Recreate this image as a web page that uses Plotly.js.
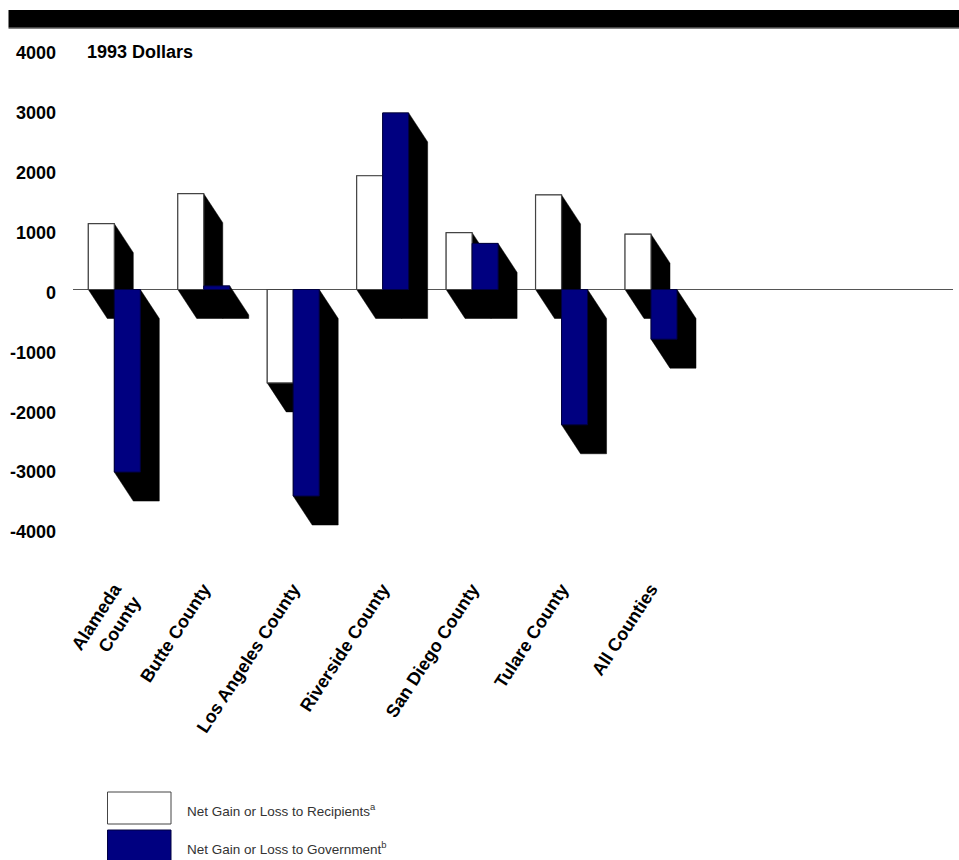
<!DOCTYPE html>
<html><head><meta charset="utf-8">
<script src="https://cdn.plot.ly/plotly-3.0.1.min.js"></script>
<style>html,body{margin:0;padding:0;background:#fff}</style>
</head><body><div id="chart" style="width:959px;height:860px"></div>
<script>
// ---- data ----
const categories = ["Alameda<br>County","Butte County","Los Angeles County","Riverside County","San Diego County","Tulare County","All Counties"];
const recipients = [1100, 1600, -1560, 1900, 950, 1580, 925];
const government = [-3050, 60, -3450, 2950, 770, -2260, -830];
const yTickVals = [4000, 3000, 2000, 1000, 0, -1000, -2000, -3000, -4000];
const yTickText = ["4000", "3000", "2000", "1000", "0", "-1000", "-2000", "-3000", "-4000"];
const seriesNames = ["Net Gain or Loss to Recipients<sup>a</sup>", "Net Gain or Loss to Government<sup>b</sup>"];
const unitLabel = "1993 Dollars";

// ---- geometry / style ----
const W = 959, H = 860;
const M = {l: 73, r: 6, t: 50, b: 331};
const plotW = W - M.l - M.r, plotH = H - M.t - M.b;
const catPx = 89.45;
const xRange = [-0.4617, -0.4617 + plotW / catPx];
const yRange = [-4001, 4001];
const pxPerX = plotW / (xRange[1] - xRange[0]);
const pxPerY = plotH / (yRange[1] - yRange[0]);
const barW = 26 / pxPerX;
const sdx = 19 / pxPerX, sdy = 29 / pxPerY;
const idx = categories.map((_, i) => i);
const px2x = p => (p - M.l) / plotW;
const px2y = p => (H - M.b - p) / plotH;
const boldFont = {family: "Liberation Sans, Arial, sans-serif", size: 18, color: "#000", weight: "bold"};
const legendFont = {family: "Liberation Sans, Arial, sans-serif", size: 13.5, color: "#333"};

function shadow(vals, off) {
  const xs = [], ys = [];
  vals.forEach((v, i) => {
    const x0 = i + off, x1 = x0 + barW;
    const y0 = Math.min(0, v), y1 = Math.max(0, v);
    xs.push(x0, x1, x1 + sdx, x1 + sdx, x0 + sdx, x0, x0, null);
    ys.push(y1, y1, y1 - sdy, y0 - sdy, y0 - sdy, y0, y1, null);
  });
  return {xs, ys};
}
const sR = shadow(recipients, -barW), sG = shadow(government, 0);

const traces = [
  {type: "scatter", mode: "lines", x: sR.xs, y: sR.ys, fill: "toself", fillcolor: "#000",
   line: {color: "#000", width: 0.5}, hoverinfo: "skip", showlegend: false, xaxis: "x", yaxis: "y"},
  {type: "scatter", mode: "lines", x: sG.xs, y: sG.ys, fill: "toself", fillcolor: "#000",
   line: {color: "#000", width: 0.5}, hoverinfo: "skip", showlegend: false, xaxis: "x", yaxis: "y"},
  {type: "bar", name: seriesNames[0], x: idx, y: recipients, width: barW, offset: -barW,
   marker: {color: "#ffffff", line: {color: "#444", width: 1.2}}, xaxis: "x2", yaxis: "y2", showlegend: false},
  {type: "bar", name: seriesNames[1], x: idx, y: government, width: barW, offset: 0,
   marker: {color: "#000080", line: {color: "#000040", width: 1}}, xaxis: "x2", yaxis: "y2", showlegend: false}
];

const layout = {
  width: W, height: H, margin: M, paper_bgcolor: "#fff", plot_bgcolor: "#fff",
  barmode: "overlay", showlegend: false,
  xaxis: {range: xRange, tickmode: "array", tickvals: idx, ticktext: categories, tickangle: -57,
          showgrid: false, zeroline: false, showline: false, ticks: "", tickfont: boldFont,
          ticklabelstandoff: 45, fixedrange: true},
  yaxis: {range: yRange, tickmode: "array", tickvals: yTickVals, ticktext: yTickText,
          showgrid: false, zeroline: true, zerolinecolor: "#555", zerolinewidth: 1.6,
          showline: false, ticks: "", tickfont: boldFont, ticklabelstandoff: 16, ticklabelshift: 3,
          fixedrange: true},
  xaxis2: {overlaying: "x", range: xRange, visible: false, fixedrange: true},
  yaxis2: {overlaying: "y", range: yRange, visible: false, fixedrange: true},
  shapes: [
    {type: "rect", xref: "paper", yref: "paper", x0: px2x(8.5), x1: px2x(960), y0: px2y(27.7), y1: px2y(10),
     fillcolor: "#000", line: {width: 0}},
    {type: "line", xref: "paper", yref: "paper", x0: px2x(8.5), x1: px2x(960), y0: px2y(28.3), y1: px2y(28.3),
     line: {color: "#666", width: 1}},
    {type: "rect", xref: "paper", yref: "paper", x0: px2x(107.5), x1: px2x(171), y0: px2y(824), y1: px2y(792),
     fillcolor: "#fff", line: {color: "#444", width: 1}},
    {type: "rect", xref: "paper", yref: "paper", x0: px2x(107.5), x1: px2x(171), y0: px2y(863), y1: px2y(830),
     fillcolor: "#000080", line: {color: "#000040", width: 1}}
  ],
  annotations: [
    {xref: "paper", yref: "paper", x: px2x(85), y: px2y(52), xanchor: "left", yanchor: "middle",
     text: unitLabel, showarrow: false, font: boldFont},
    {xref: "paper", yref: "paper", x: px2x(185), y: px2y(810), xanchor: "left", yanchor: "middle",
     text: seriesNames[0], showarrow: false, font: legendFont},
    {xref: "paper", yref: "paper", x: px2x(185), y: px2y(848), xanchor: "left", yanchor: "middle",
     text: seriesNames[1], showarrow: false, font: legendFont}
  ]
};

Plotly.newPlot("chart", traces, layout, {displayModeBar: false, staticPlot: true});
</script>
</body></html>
